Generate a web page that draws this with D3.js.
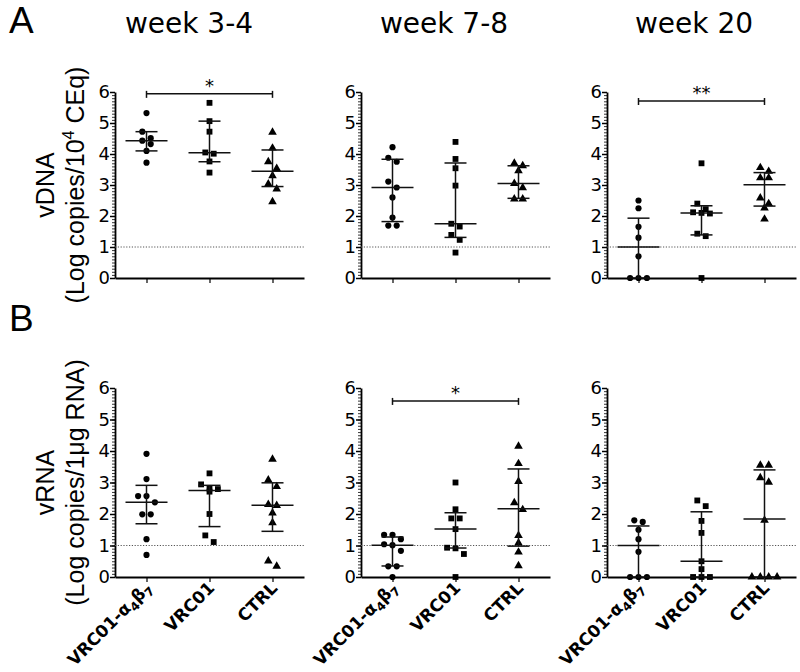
<!DOCTYPE html>
<html><head><meta charset="utf-8">
<script src="https://cdn.jsdelivr.net/npm/d3@7/dist/d3.min.js"></script>
<style>body{margin:0;background:#fff}svg{display:block}</style>
</head><body>
<svg id="c" width="800" height="672"></svg>
<script>
// ---------------- data ----------------
const groups = ["VRC01-α4β7", "VRC01", "CTRL"];
const weeks = ["week 3-4", "week 7-8", "week 20"];
const yTicks = [0, 1, 2, 3, 4, 5, 6];
const detectionLimit = 1;

// vDNA (Log copies / 10^4 CEq)
const vDNA_wk34 = [
  [5.32, 4.72, 4.51, 4.43, 4.32, 4.10, 3.72],
  [5.65, 5.06, 4.72, 4.05, 4.01, 3.76, 3.40],
  [4.70, 4.19, 3.75, 3.53, 3.30, 3.03, 2.87, 2.46]
];
const vDNA_wk78 = [
  [4.22, 3.88, 3.75, 3.11, 2.92, 2.60, 1.95, 1.69, 1.69],
  [4.39, 3.84, 3.54, 2.98, 1.75, 1.66, 1.39, 1.23, 0.82],
  [3.70, 3.62, 3.46, 3.05, 2.91, 2.55, 2.55]
];
const vDNA_wk20 = [
  [2.50, 2.25, 1.65, 1.30, 0.70, 0, 0, 0],
  [3.70, 2.40, 2.22, 2.12, 2.10, 2.08, 1.43, 1.35, 0],
  [3.56, 3.44, 3.23, 3.23, 2.58, 2.40, 2.26, 1.90]
];
// medians and interquartile ranges as drawn
const vDNA_wk34_median = [4.43, 4.04, 3.44];
const vDNA_wk34_q1 = [4.10, 3.75, 2.95];
const vDNA_wk34_q3 = [4.72, 5.06, 4.13];
const vDNA_wk78_median = [2.92, 1.75, 3.05];
const vDNA_wk78_q1 = [1.82, 1.31, 2.57];
const vDNA_wk78_q3 = [3.83, 3.71, 3.62];
const vDNA_wk20_median = [1.00, 2.10, 3.01];
const vDNA_wk20_q1 = [0, 1.39, 2.32];
const vDNA_wk20_q3 = [1.93, 2.33, 3.40];

// vRNA (Log copies / 1 µg RNA)
const vRNA_wk34 = [
  [3.91, 3.11, 2.57, 2.57, 2.37, 1.99, 1.99, 1.20, 0.70],
  [3.29, 2.94, 2.81, 2.79, 2.71, 2.00, 1.32, 1.11],
  [3.74, 3.08, 2.87, 2.30, 2.27, 2.03, 1.72, 0.51, 0.34]
];
const vRNA_wk78 = [
  [1.34, 1.34, 1.20, 1.04, 1.01, 0.83, 0.34, 0.34, 0],
  [3.00, 2.15, 1.86, 1.86, 1.52, 0.93, 0.91, 0.73, 0],
  [4.15, 3.60, 3.03, 2.36, 2.14, 1.32, 1.08, 0.79, 0.36]
];
const vRNA_wk20 = [
  [1.80, 1.75, 1.50, 1.20, 0.80, 0, 0, 0],
  [2.43, 2.25, 1.78, 1.40, 0.50, 0.25, 0, 0, 0],
  [3.55, 3.55, 3.15, 3.01, 1.80, 0, 0, 0, 0]
];
const vRNA_wk34_median = [2.37, 2.75, 2.28];
const vRNA_wk34_q1 = [1.69, 1.60, 1.45];
const vRNA_wk34_q3 = [2.91, 2.91, 2.99];
const vRNA_wk78_median = [1.01, 1.52, 2.17];
const vRNA_wk78_q1 = [0.35, 0.92, 0.98];
const vRNA_wk78_q3 = [1.27, 2.04, 3.43];
const vRNA_wk20_median = [1.00, 0.50, 1.84];
const vRNA_wk20_q1 = [0, 0, 0];
const vRNA_wk20_q3 = [1.62, 2.07, 3.40];

// significance brackets (first vs last group)
const vDNA_sig = ["*", null, "**"];
const vDNA_sigLevel = [5.94, null, 5.71];
const vRNA_sig = [null, "*", null];
const vRNA_sigLevel = [null, 5.59, null];

// ---------------- layout ----------------
const svg = d3.select("#c");
const colX = [115, 361, 607];
const titleX = [189, 444, 694];
const plotW = 189;
const rows = [
  {top: 92, bottom: 278, letter: "A", letterY: 33, line1: "vDNA", line2: ["(Log copies/10", "4", " CEq)"],
   data: [vDNA_wk34, vDNA_wk78, vDNA_wk20],
   med: [vDNA_wk34_median, vDNA_wk78_median, vDNA_wk20_median],
   q1: [vDNA_wk34_q1, vDNA_wk78_q1, vDNA_wk20_q1],
   q3: [vDNA_wk34_q3, vDNA_wk78_q3, vDNA_wk20_q3],
   sig: vDNA_sig, sigLevel: vDNA_sigLevel},
  {top: 388, bottom: 577, letter: "B", letterY: 331, line1: "vRNA", line2: ["(Log copies/1μg RNA)"],
   data: [vRNA_wk34, vRNA_wk78, vRNA_wk20],
   med: [vRNA_wk34_median, vRNA_wk78_median, vRNA_wk20_median],
   q1: [vRNA_wk34_q1, vRNA_wk78_q1, vRNA_wk20_q1],
   q3: [vRNA_wk34_q3, vRNA_wk78_q3, vRNA_wk20_q3],
   sig: vRNA_sig, sigLevel: vRNA_sigLevel}
];
const symbols = [d3.symbolCircle, d3.symbolSquare, d3.symbolTriangle];
const symSize = [30, 34, 32];
const tickFont = "'DejaVu Sans', Verdana, sans-serif";
const labelFont = "'Liberation Sans', Arial, sans-serif";

const x = d3.scalePoint().domain(groups).range([0, plotW]).padding(0.5);

function swarm(vals, y, gap, step) {
  const idx = vals.map((v, i) => i).sort((a, b) => vals[b] - vals[a]);
  const off = new Array(vals.length).fill(0);
  let bin = [], startY = null;
  const flush = () => { bin.forEach((i, k) => off[i] = (k - (bin.length - 1) / 2) * step); bin = []; };
  idx.forEach(i => {
    const py = y(vals[i]);
    if (startY === null || py - startY >= gap) { flush(); startY = py; }
    bin.push(i);
  });
  flush();
  return off;
}

// titles
weeks.forEach((w, c) => {
  svg.append("text").attr("x", titleX[c]).attr("y", 33)
    .attr("text-anchor", "middle").style("font-family", tickFont).style("font-size", "28px")
    .text(w);
});

rows.forEach((row, r) => {
  const y = d3.scaleLinear().domain([0, 6]).range([row.bottom, row.top]);

  // panel letter
  svg.append("text").attr("x", 9).attr("y", row.letterY)
    .style("font-family", labelFont).style("font-size", "37px").text(row.letter);

  // y label
  const cy = (row.top + row.bottom) / 2;
  const yl = svg.append("g").attr("transform", `translate(0,${cy}) rotate(-90)`);
  yl.append("text").attr("x", 0).attr("y", 54).attr("text-anchor", "middle")
    .style("font-family", labelFont).style("font-size", "25px").text(row.line1);
  const t2 = yl.append("text").attr("x", 0).attr("y", 84).attr("text-anchor", "middle")
    .style("font-family", labelFont).style("font-size", "25px");
  if (row.line2.length === 3) {
    t2.append("tspan").text(row.line2[0]);
    t2.append("tspan").attr("dy", -10).style("font-size", "16px").text(row.line2[1]);
    t2.append("tspan").attr("dy", 10).text(row.line2[2]);
  } else {
    t2.text(row.line2[0]);
  }

  colX.forEach((cx, c) => {
    const g = svg.append("g").attr("transform", `translate(${cx},0)`);

    // minor ticks
    const minor = d3.range(0, 60.5, 1).map(d => d / 10);
    g.append("g").call(d3.axisLeft(y).tickValues(minor).tickSize(3).tickFormat(""))
      .call(s => s.select(".domain").remove())
      .selectAll("line").attr("stroke", "#000").attr("stroke-width", 0.8);
    // major axis
    const ya = g.append("g").call(d3.axisLeft(y).tickValues(yTicks).tickSize(5).tickSizeOuter(0).tickPadding(0)
      .tickFormat(d3.format("d")));
    ya.select(".domain").attr("stroke", "#000").attr("stroke-width", 1.8);
    ya.selectAll(".tick line").attr("stroke-width", 1.5);
    ya.selectAll("text").style("font-family", tickFont).style("font-size", "18px").attr("fill", "#000");

    // x axis
    const xa = g.append("g").attr("transform", `translate(0,${y(0)})`)
      .call(d3.axisBottom(x).tickSize(5).tickSizeOuter(0).tickFormat(""));
    xa.select(".domain").attr("stroke", "#000").attr("stroke-width", 1.8);
    xa.selectAll(".tick line").attr("stroke-width", 1.2);
    if (r === 1) {
      groups.forEach(gname => {
        const tx = g.append("text")
          .attr("transform", `translate(${x(gname) + 6},${y(0) + 12}) rotate(-45)`)
          .attr("text-anchor", "end")
          .style("font-family", tickFont).style("font-weight", "bold").style("font-size", "17px");
        if (gname === "VRC01-α4β7") {
          tx.append("tspan").text("VRC01-α");
          tx.append("tspan").attr("dy", 4).style("font-size", "12px").text("4");
          tx.append("tspan").attr("dy", -4).text("β");
          tx.append("tspan").attr("dy", 4).style("font-size", "12px").text("7");
        } else {
          tx.text(gname);
        }
      });
    }

    // detection limit
    g.append("line").attr("x1", 0).attr("x2", plotW)
      .attr("y1", y(detectionLimit)).attr("y2", y(detectionLimit))
      .attr("stroke", "#555").attr("stroke-width", 1).attr("stroke-dasharray", "1.2,1.6");

    // points + median/IQR
    const panel = row.data[c];
    groups.forEach((gname, k) => {
      const vals = panel[k];
      const gx = x(gname);
      const off = swarm(vals, y, 7, 8.4);
      g.selectAll(null).data(vals).enter().append("path")
        .attr("d", d3.symbol().type(symbols[k]).size(symSize[k]))
        .attr("transform", (d, i) => `translate(${gx + off[i]},${y(d)})`)
        .attr("fill", "#000");

      const med = row.med[c][k], lo = row.q1[c][k], hi = row.q3[c][k];
      const ln = (x1, x2, y1, y2) => g.append("line").attr("x1", x1).attr("x2", x2)
        .attr("y1", y1).attr("y2", y2).attr("stroke", "#111").attr("stroke-width", 1.5);
      ln(gx, gx, y(lo), y(hi));
      ln(gx - 11, gx + 11, y(lo), y(lo));
      ln(gx - 11, gx + 11, y(hi), y(hi));
      ln(gx - 21, gx + 21, y(med), y(med));
    });

    // significance
    if (row.sig[c]) {
      const lv = y(row.sigLevel[c]);
      const x1 = x(groups[0]), x2 = x(groups[2]);
      g.append("line").attr("x1", x1).attr("x2", x2).attr("y1", lv).attr("y2", lv)
        .attr("stroke", "#111").attr("stroke-width", 1.5);
      [x1, x2].forEach(xx => g.append("line").attr("x1", xx).attr("x2", xx)
        .attr("y1", lv - 3).attr("y2", lv + 4).attr("stroke", "#111").attr("stroke-width", 1.5));
      g.append("text").attr("x", (x1 + x2) / 2).attr("y", lv - 2).attr("text-anchor", "middle")
        .style("font-family", tickFont).style("font-size", "18px").text(row.sig[c]);
    }
  });
});
</script>
</body></html>
